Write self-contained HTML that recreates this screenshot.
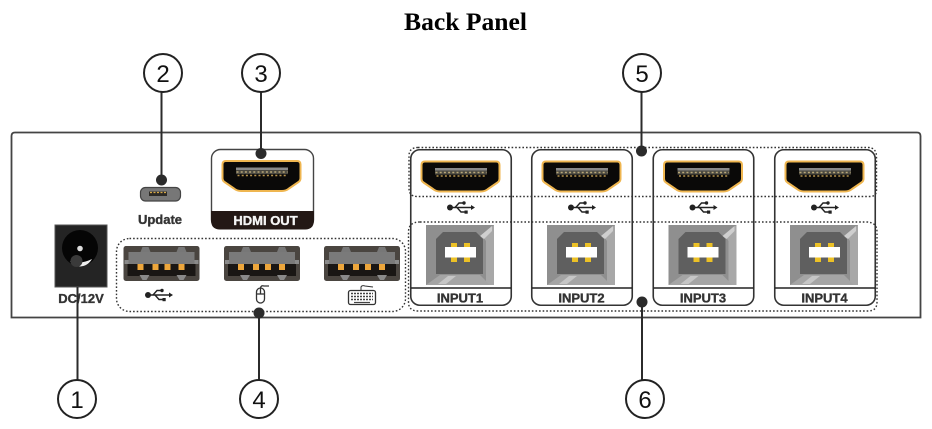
<!DOCTYPE html>
<html><head><meta charset="utf-8"><style>
html,body{margin:0;padding:0;background:#fff}
svg{display:block}
.l{font-family:"Liberation Sans",sans-serif;font-weight:bold;text-anchor:middle;fill:#333;stroke:#333;stroke-width:.35px}
.soft{filter:blur(.35px)}
</style></head><body>
<svg width="932" height="429" viewBox="0 0 932 429" xmlns="http://www.w3.org/2000/svg">
<defs>
<g id="hdmi">
<path d="M1.5 4 Q1.5 0.500 5 0.500 H76 Q79.500 0.500 79.500 4 V18 Q79.500 20 77.500 21.500 L68 28 Q65 30.500 61 30.500 H20 Q16 30.500 13 28 L3.500 21.500 Q1.500 20 1.500 18 Z" fill="#0a0908" stroke="#efb650" stroke-width="2" stroke-linejoin="round"/>
<rect x="15" y="7" width="52" height="2.600" fill="#8a8a8a"/>
<rect x="15" y="9.600" width="52" height="4" fill="#4c4a42"/>
<line x1="15.500" y1="11.500" x2="66.500" y2="11.500" stroke="#b9a878" stroke-width="1.500" stroke-dasharray="2 2.200"/>
<line x1="16.500" y1="15" x2="65.500" y2="15" stroke="#b8954f" stroke-width="1.400" stroke-dasharray="2 2.200"/>
</g>
<g id="usbsym" fill="none" stroke="#222" stroke-width="1.400">
<circle cx="0" cy="0" r="3" fill="#222" stroke="none"/>
<line x1="0" y1="0" x2="22" y2="0"/>
<path d="M21 -2.500 L25 0 L21 2.500 Z" fill="#222" stroke="none"/>
<path d="M5 0 L9 -4.500 H13"/>
<path d="M7 0 L11 4.500 H15"/>
<circle cx="14" cy="-4.500" r="1.700" fill="#222" stroke="none"/>
<rect x="14.500" y="3" width="3.200" height="3.200" fill="#222" stroke="none"/>
</g>
<g id="usba">
<rect x="0" y="0" width="76" height="35" rx="2.500" fill="#4a4540"/>
<rect x="4" y="17" width="68" height="13" fill="#191614"/>
<rect x="5" y="6" width="66" height="12" fill="#7a7a7a"/>
<path d="M17 6 L19 1 H25 L27 6 Z M53 6 L55 1 H61 L63 6 Z" fill="#777"/>
<path d="M16 29 H26 L23 34 H19 Z M53 29 H63 L60 34 H56 Z" fill="#8a8a8a"/>
<rect x="1" y="14" width="4" height="4" fill="#8a8a8a"/><rect x="71" y="14" width="4" height="4" fill="#8a8a8a"/>
<rect x="14" y="18" width="6" height="6" fill="#eda63b"/>
<rect x="29" y="18" width="6" height="6" fill="#eda63b"/>
<rect x="41" y="18" width="6" height="6" fill="#eda63b"/>
<rect x="55" y="18" width="6" height="6" fill="#eda63b"/>
</g>
<g id="usbb">
<rect x="0" y="0" width="68" height="60" fill="#8f8f8f"/>
<path d="M68 0 V60 H60 V16 L56 10 Z" fill="#a8a8a8"/>
<path d="M54 11 L66 1 V6 L58 14 Z" fill="#cfcfcf"/>
<path d="M0 60 L14 50 H54 L64 60 Z" fill="#a5a5a5"/>
<path d="M12 59 L22 51 H30 L20 59 Z" fill="#c6c6c6"/>
<path d="M10 14 L17 7 H50 L57 14 V49 H10 Z" fill="#5f5f5f"/>
<rect x="25" y="18" width="6" height="4.500" fill="#ecc126"/><rect x="38" y="18" width="6" height="4.500" fill="#ecc126"/>
<rect x="25" y="32" width="6" height="5" fill="#ecc126"/><rect x="38" y="32" width="6" height="5" fill="#ecc126"/>
<rect x="19" y="22" width="31" height="10.500" fill="#fff"/>
</g>
<g id="inp">
<rect x="0.750" y="0.750" width="100.500" height="155.500" rx="9" fill="#fff" stroke="#333" stroke-width="1.600"/>
<line x1="1" y1="139" x2="101" y2="139" stroke="#222" stroke-width="1.600"/>
<use href="#hdmi" x="10" y="12"/>
<use href="#usbb" x="16" y="76"/>
<use href="#usbsym" x="40" y="58.500"/>
</g>
</defs>

<text x="465.500" y="30" text-anchor="middle" font-family="'Liberation Serif',serif" font-weight="bold" font-size="25.600" fill="#000">Back Panel</text>

<g class="soft">
<!-- panel -->
<path d="M11.500 317.500 V136 Q11.500 132.500 15 132.500 H917 Q920.500 132.500 920.500 136 V317.500 Z" fill="#fff" stroke="#444" stroke-width="1.800"/>

<!-- HDMI out -->
<rect x="211.500" y="149.500" width="102" height="79" rx="9" fill="#fff" stroke="#444" stroke-width="1.400"/>
<path d="M211 211 H314 V220 Q314 229.500 305 229.500 H220 Q211 229.500 211 220 Z" fill="#231815"/>
<use href="#hdmi" x="221" y="160.500"/>
<text class="l" x="265.500" y="225" font-size="13" style="fill:#f4f4f4;stroke:#f4f4f4">HDMI OUT</text>

<!-- micro usb -->
<rect x="140.500" y="187.500" width="40" height="13.500" rx="5" fill="#777" stroke="#444" stroke-width="1.200"/>
<rect x="149" y="191.500" width="18" height="4.500" fill="#2c2a26"/>
<line x1="150" y1="192.500" x2="166" y2="192.500" stroke="#d8a945" stroke-width="1.200" stroke-dasharray="2 1.500"/>
<text class="l" x="160" y="224" font-size="13">Update</text>

<!-- DC jack -->
<rect x="55" y="225" width="52" height="62" fill="#242424" stroke="#555" stroke-width="1"/>
<circle cx="80" cy="248" r="18" fill="#050505"/>
<path d="M70 261 Q80 265 92 259 Q88 266 80 266.500 Q74 266 70 261 Z" fill="#eee"/>
<circle cx="80" cy="248.500" r="2.800" fill="#ddd"/>
<circle cx="76.500" cy="261" r="6" fill="#3a3a3a"/>
<text class="l" x="81" y="303" font-size="13">DC/12V</text>

<!-- USB A group -->
<rect x="116.500" y="238.500" width="289" height="73" rx="13" fill="none" stroke="#333" stroke-width="1.400" stroke-dasharray="1.600 2"/>
<use href="#usba" x="123.500" y="246"/>
<use href="#usba" x="224" y="246"/>
<use href="#usba" x="324" y="246"/>
<use href="#usbsym" x="148" y="295"/>
<!-- mouse -->
<g fill="none" stroke="#333" stroke-width="1.300">
<rect x="256.500" y="288" width="8" height="15" rx="4"/>
<line x1="256.500" y1="294" x2="264.500" y2="294"/>
<line x1="260.500" y1="288" x2="260.500" y2="294"/>
<path d="M260.500 288 Q261 285 264 286 L269 286"/>
</g>
<!-- keyboard -->
<g>
<rect x="348.500" y="290.500" width="27" height="14" rx="2" fill="#fff" stroke="#333" stroke-width="1.300"/>
<path d="M361 290 V287 Q362 285 365 286 L373 287" fill="none" stroke="#333" stroke-width="1"/>
<line x1="351" y1="293.500" x2="373" y2="293.500" stroke="#444" stroke-width="1.500" stroke-dasharray="2 1"/>
<line x1="351" y1="296.500" x2="373" y2="296.500" stroke="#444" stroke-width="1.500" stroke-dasharray="2 1"/>
<line x1="351" y1="299.500" x2="373" y2="299.500" stroke="#444" stroke-width="1.500" stroke-dasharray="2 1"/>
<line x1="354" y1="302.500" x2="370" y2="302.500" stroke="#444" stroke-width="1.200"/>
</g>

<!-- inputs -->
<use href="#inp" x="410" y="149"/>
<use href="#inp" x="531" y="149"/>
<use href="#inp" x="652.500" y="149"/>
<use href="#inp" x="774" y="149"/>
<text class="l" x="460" y="302.500" font-size="13">INPUT1</text>
<text class="l" x="581.500" y="302.500" font-size="13">INPUT2</text>
<text class="l" x="703" y="302.500" font-size="13">INPUT3</text>
<text class="l" x="824.500" y="302.500" font-size="13">INPUT4</text>

<!-- dotted groups 5, 6 -->
<path d="M418 147.500 H868 Q876 147.500 876.500 156 V190 Q876.500 196.500 870 196.500 H417 Q409 196.500 409 188 V156 Q409 147.500 418 147.500 Z" fill="none" stroke="#333" stroke-width="1.400" stroke-dasharray="1.600 2"/>
<path d="M420 222 H866 Q877 222 877 232 V302 Q877 311 868 311 H418 Q408.500 311 408.500 302 V232 Q408.500 222 420 222 Z" fill="none" stroke="#333" stroke-width="1.400" stroke-dasharray="1.600 2"/>

<!-- connectors -->
<g stroke="#2b2b2b" stroke-width="2" fill="#2b2b2b">
<line x1="161.500" y1="92" x2="161.500" y2="180"/><circle cx="161.500" cy="180" r="5.500" stroke="none"/>
<line x1="261" y1="92" x2="261" y2="153"/><circle cx="261" cy="153.500" r="5.500" stroke="none"/>
<line x1="641.500" y1="92" x2="641.500" y2="151"/><circle cx="641.500" cy="151" r="5.500" stroke="none"/>
<line x1="642" y1="302" x2="642" y2="380"/><circle cx="642" cy="302" r="5.500" stroke="none"/>
<line x1="77.500" y1="287" x2="77.500" y2="380"/>
<line x1="259" y1="313" x2="259" y2="380"/><circle cx="259" cy="313" r="5.500" stroke="none"/>
</g>
</g>

<!-- callouts -->
<g fill="#fff" stroke="#222" stroke-width="2">
<circle cx="163" cy="73" r="19"/><circle cx="261" cy="73" r="19"/><circle cx="642" cy="73" r="19"/>
<circle cx="77" cy="399" r="19"/><circle cx="259" cy="399" r="19"/><circle cx="645" cy="399" r="19"/>
</g>
<g font-family="'Liberation Sans',sans-serif" font-size="24" text-anchor="middle" fill="#111">
<text x="163" y="82">2</text><text x="261" y="82">3</text><text x="642" y="82">5</text>
<text x="77" y="408">1</text><text x="259" y="408">4</text><text x="645" y="408">6</text>
</g>
</svg>
</body></html>
